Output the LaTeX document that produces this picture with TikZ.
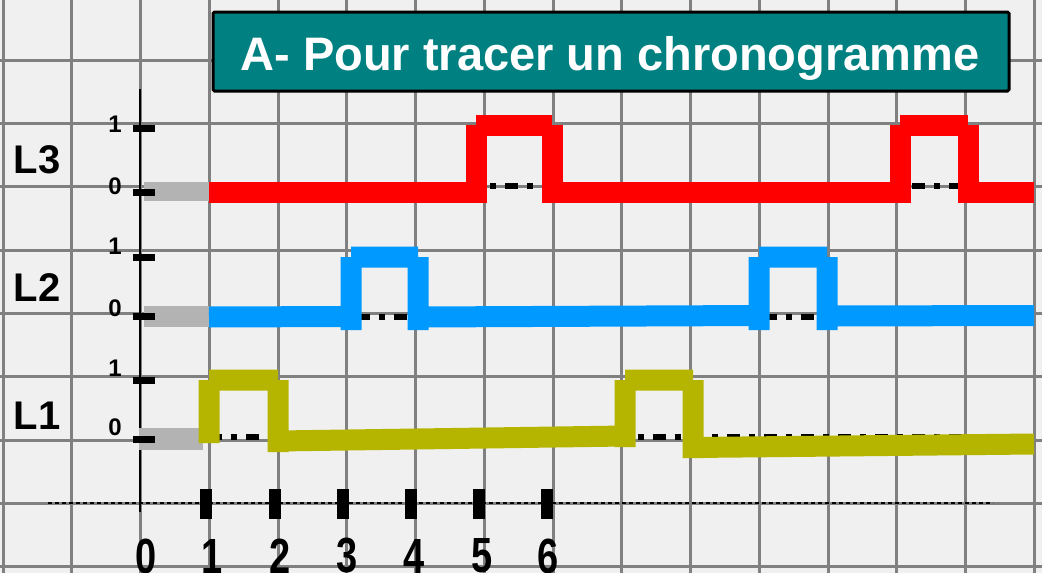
\documentclass[tikz,border=0pt]{standalone}
\usepackage{fontspec}
\setmainfont{Liberation Sans}
\definecolor{bgc}{HTML}{F0F0F0}
\definecolor{gridc}{HTML}{808080}
\definecolor{tealc}{HTML}{008080}
\definecolor{redc}{HTML}{FF0000}
\definecolor{bluec}{HTML}{0099FF}
\definecolor{olivec}{HTML}{B5B500}
\definecolor{grayc}{HTML}{B3B3B3}
\tikzset{
  gridline/.style={draw=gridc, line width=3pt},
  sig/.style={line width=21pt, line cap=butt},
  zeroline/.style={draw=black, line width=6pt, dash pattern=on 13pt off 9pt on 6pt off 9pt},
  lvltick/.style={draw=black, line width=7pt},
  timetick/.style={fill=black},
  lab/.style={font=\bfseries\fontsize{40}{40}\selectfont, inner sep=0pt},
  lvl/.style={font=\bfseries\fontsize{24}{24}\selectfont, inner sep=0pt},
  tnum/.style={font=\bfseries\fontsize{38}{38}\selectfont, inner sep=0pt},
}
\newcommand{\tallnum}[1]{\scalebox{1}[1.3]{#1}}
\begin{document}
\begin{tikzpicture}[x=1pt,y=-1pt]
\fill[bgc] (0,0) rectangle (1042,573);
\useasboundingbox (0,0) rectangle (1042,573);
% grid
\foreach \i in {0,...,15} \draw[gridline] ({3+68.75*\i},0) -- ({3+68.75*\i},573);
\foreach \j in {1,...,9} \draw[gridline] (0,{-3+63.33*\j}) -- (1042,{-3+63.33*\j});
% time axis dashed line and vertical axis
\coordinate (da) at (48,503);
\coordinate (db) at (993,503);
\draw[black, line width=1.2pt, dash pattern=on 4pt off 3pt] (da) -- (db);
\coordinate (va) at (140,89);
\coordinate (vb) at (140,512);
\draw[black, line width=1.6pt] (va) -- (vb);
% zero reference dashed lines
\draw[zeroline] (209,186) -- (995,186);
\draw[zeroline] (209,316.5) -- (995,316.5);
\draw[zeroline] (209,436.5) -- (995,436.5);
% gray initial segments
\draw[grayc, line width=19pt] (144,191) -- (209,191);
\draw[grayc, line width=21pt] (144,316.5) -- (209,316.5);
\draw[grayc, line width=22pt] (139,439) -- (203,439);
% L3 red
\draw[sig, redc] (209,192) -- (476,192)
  (476,125) -- (476,203) (476,125) -- (552,125) (552,125) -- (552,203)
  (552,192) -- (900,192)
  (900,125) -- (900,203) (900,125) -- (968,125) (968,125) -- (968,203)
  (968,192) -- (1034,192);
% L2 blue
\draw[sig, bluec] (209,317) -- (351,316.5)
  (351,257) -- (351,330) (351,257) -- (418,257) (418,257) -- (418,330)
  (418,317) -- (759,315.5)
  (759,257) -- (759,330) (759,257) -- (827,257) (827,257) -- (827,330)
  (827,316) -- (1034,315.5);
% L1 olive
\draw[sig, olivec] (209,380) -- (209,443) (209,380) -- (278,380) (278,380) -- (278,452)
  (278,441) -- (625,436)
  (625,380) -- (625,447) (625,380) -- (693,380) (693,380) -- (693,458)
  (693,447.5) -- (1034,444);
% level ticks
\foreach \y in {128,192,257,316,380,439} \draw[lvltick] (133,\y) -- (155,\y);
% level labels
\node[lvl] (l3one) at (115,124) {1};
\node[lvl] (l3zero) at (115,186) {0};
\node[lvl] (l2one) at (115,246) {1};
\node[lvl] (l2zero) at (115,308) {0};
\node[lvl] (l1one) at (115,368) {1};
\node[lvl] (l1zero) at (115,427) {0};
\node[lab] (L3) at (37,160) {L3};
\node[lab] (L2) at (37,288) {L2};
\node[lab] (L1) at (37,416) {L1};
% time ticks
\foreach \x in {206,275,343,411,479,547} \fill[timetick] (\x-6,489) rectangle (\x+6,519);
% time labels
\node[tnum] (t0) at (146,556) {\tallnum{0}};
\node[tnum] (t1) at (212,556) {\tallnum{1}};
\node[tnum] (t2) at (280,556) {\tallnum{2}};
\node[tnum] (t3) at (347,556) {\tallnum{3}};
\node[tnum] (t4) at (414,556) {\tallnum{4}};
\node[tnum] (t5) at (482,556) {\tallnum{5}};
\node[tnum] (t6) at (548,556) {\tallnum{6}};
% title
\draw[fill=tealc, draw=black, line width=3pt, rounded corners=1.5pt] (213,12) rectangle (1009,91);
\node[text=white, font=\bfseries\fontsize{47}{47}\selectfont, inner sep=0pt] (title) at (610,58) {A- Pour tracer un chronogramme};
\end{tikzpicture}
\end{document}
